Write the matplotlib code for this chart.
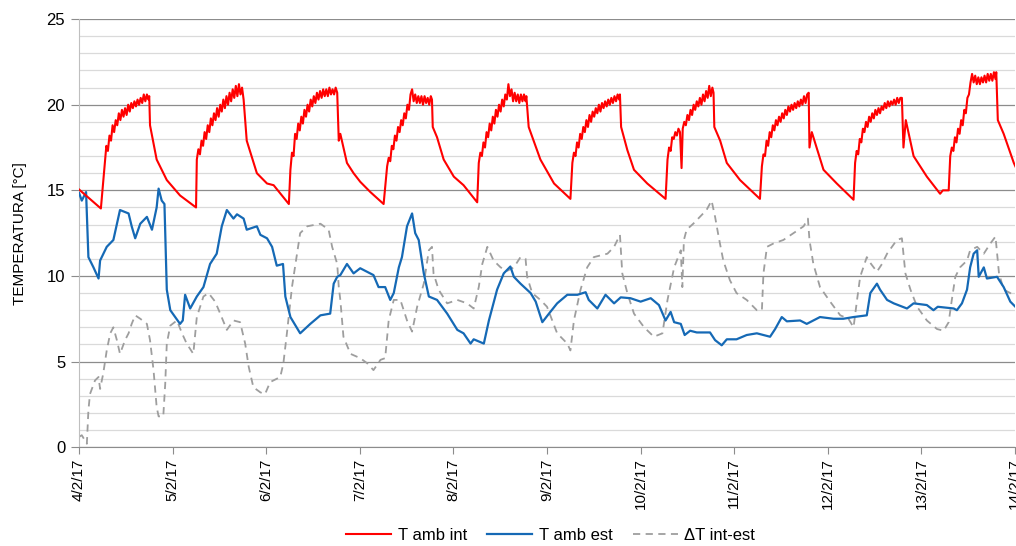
import numpy as np
import pandas as pd
import matplotlib
matplotlib.use("Agg")
import matplotlib.pyplot as plt
from matplotlib.ticker import MultipleLocator

plt.rcParams['font.family'] = ['Liberation Sans', 'DejaVu Sans']

# ---- data: hours after 4/2/17 00:00 and temperatures [°C] ----
t_int_h = [0, 5.6,
           6.2, 6.6, 7.0, 7.4, 7.8, 8.2, 8.6, 9.0, 9.4, 9.8, 10.2, 10.6, 11.0, 11.4, 11.8, 12.2,
           12.6, 13.0, 13.4, 13.8, 14.2, 14.6, 15.0, 15.4, 15.8, 16.2, 16.6, 17.0, 17.4, 17.8, 18.0,
           18.2, 19.9, 22.5, 25.9, 30.0,
           30.2, 30.6, 31.0, 31.4, 31.8, 32.2, 32.6, 33.0, 33.4, 33.8, 34.2, 34.6, 35.0, 35.4,
           35.8, 36.2, 36.6, 37.0, 37.4, 37.8, 38.2, 38.6, 39.0, 39.4, 39.8, 40.2, 40.6, 41.0,
           41.4, 41.8, 42.2,
           43.0, 45.6, 48.2, 49.9, 53.8,
           54.2, 54.6, 55.0, 55.4, 55.8, 56.2, 56.6, 57.0, 57.4, 57.8, 58.2, 58.6, 59.0, 59.4,
           59.8, 60.2, 60.6, 61.0, 61.4, 61.8, 62.2, 62.6, 63.0, 63.4, 63.8, 64.2, 64.6, 65.0,
           65.4, 65.8, 66.2,
           66.6, 67.0, 68.7, 70.4, 72.1, 74.7, 78.1,
           79.0, 79.4, 79.8, 80.2, 80.6, 81.0, 81.4, 81.8, 82.2, 82.6, 83.0, 83.4, 83.8, 84.2,
           84.6, 85.0, 85.4, 85.8, 86.2, 86.6, 87.0, 87.4, 87.8, 88.2, 88.6, 89.0, 89.4, 89.8,
           90.2, 90.5,
           90.7, 91.8, 93.5, 96.1, 98.6, 102.1,
           102.5, 102.9, 103.3, 103.7, 104.1, 104.5, 104.9, 105.3, 105.7, 106.1, 106.5, 106.9,
           107.3, 107.7, 108.1, 108.5, 108.9, 109.3, 109.7, 110.1, 110.5, 110.9, 111.3, 111.7,
           112.1, 112.5, 112.9, 113.3, 113.7, 114.1, 114.5, 114.7,
           115.3, 118.3, 121.8, 126.0,
           126.5, 126.9, 127.3, 127.7, 128.1, 128.5, 128.9, 129.3, 129.7, 130.1, 130.5, 130.9,
           131.3, 131.7, 132.1, 132.5, 132.9, 133.3, 133.7, 134.1, 134.5, 134.9, 135.3, 135.7,
           136.1, 136.5, 136.9, 137.3, 137.7, 138.1, 138.5, 138.7,
           139.0, 140.6, 142.3, 145.7, 150.4,
           150.9, 151.3, 151.7, 152.1, 152.5, 152.9, 153.3, 153.7, 154.1, 154.5, 154.8, 155.2,
           155.6, 156.0, 156.4, 156.8, 157.2, 157.6, 158.0, 158.4, 158.8, 159.2, 159.6, 160.0,
           160.4, 160.8, 161.2, 161.6, 162.0, 162.4, 162.7,
           162.9, 164.4, 166.1, 169.5, 174.6,
           175.1, 175.5, 175.9, 176.3, 176.7, 177.1, 177.5, 177.9, 178.3, 178.7, 179.1, 179.5,
           179.9, 180.3, 180.7, 181.1, 181.5, 181.9, 182.3, 182.7, 183.1, 183.5, 183.9, 184.3,
           184.7, 185.1, 185.5, 185.9, 186.3, 186.7, 187.1,
           187.3, 187.9, 190.9, 194.3, 198.6,
           199.0, 199.4, 199.8, 200.2, 200.6, 201.0, 201.4, 201.8, 202.2, 202.6, 203.0, 203.4,
           203.8, 204.2, 204.6, 205.0, 205.4, 205.8, 206.2, 206.6, 207.0, 207.4, 207.8, 208.2,
           208.6, 209.0, 209.4, 209.8, 210.2, 210.6, 211.0,
           211.4, 212.0, 214.0, 217.4, 219.1, 220.8, 221.5, 223.0,
           223.4, 223.8, 224.2, 224.6, 225.0, 225.4, 225.8, 226.2, 226.6, 227.0, 227.4, 227.8,
           228.2, 228.6, 229.0, 229.4, 229.8, 230.2, 230.6, 231.0, 231.4, 231.8, 232.2, 232.6,
           233.0, 233.4, 233.8, 234.2, 234.6, 235.0, 235.2,
           235.6, 237.1, 239.7, 240.5]
t_int = [15.05, 13.94,
         15.5, 16.6, 17.6, 17.3, 18.2, 17.9, 18.8, 18.4, 19.1, 18.8, 19.5, 19.1, 19.7, 19.3, 19.8, 19.4,
         20.0, 19.6, 20.1, 19.8, 20.2, 19.9, 20.3, 20.0, 20.4, 20.1, 20.6, 20.2, 20.6, 20.3, 20.5,
         18.8, 16.8, 15.6, 14.7, 14.0,
         16.8, 17.4, 17.1, 17.9, 17.6, 18.4, 18.0, 18.8, 18.4, 19.2, 18.8, 19.5, 19.1, 19.8,
         19.3, 20.0, 19.6, 20.3, 19.8, 20.5, 20.0, 20.7, 20.2, 20.9, 20.4, 21.1, 20.5, 21.2,
         20.6, 21.0, 20.3,
         17.9, 16.0, 15.4, 15.3, 14.2,
         16.2, 17.2, 17.0, 18.3, 18.0, 18.9, 18.5, 19.3, 18.9, 19.7, 19.3, 20.0, 19.6, 20.3,
         19.9, 20.5, 20.1, 20.7, 20.3, 20.8, 20.4, 20.9, 20.5, 20.9, 20.5, 21.0, 20.6, 20.9,
         20.6, 21.0, 20.7,
         17.9, 18.3, 16.6, 16.0, 15.5, 14.9, 14.2,
         16.4, 16.9, 16.7, 17.6, 17.4, 18.2, 17.9, 18.7, 18.4, 19.1, 18.8, 19.5, 19.2, 20.0,
         19.7, 20.6, 20.9, 20.2, 20.6, 20.1, 20.5, 20.1, 20.5, 20.0, 20.5, 20.1, 20.4, 20.0,
         20.5, 20.3,
         18.7, 18.1, 16.8, 15.8, 15.3, 14.3,
         16.6, 17.2, 17.0, 17.8, 17.5, 18.4, 18.1, 18.9, 18.5, 19.3, 18.9, 19.7,
         19.3, 20.0, 19.6, 20.3, 19.9, 20.6, 20.3, 21.2, 20.5, 20.9, 20.2, 20.7,
         20.2, 20.6, 20.1, 20.6, 20.2, 20.6, 20.2, 20.5,
         18.7, 16.8, 15.4, 14.5,
         16.6, 17.2, 17.0, 17.8, 17.5, 18.3, 18.0, 18.7, 18.4, 19.1, 18.7, 19.4,
         19.0, 19.6, 19.3, 19.8, 19.5, 20.0, 19.6, 20.1, 19.8, 20.2, 19.9, 20.3,
         20.0, 20.4, 20.1, 20.5, 20.2, 20.6, 20.3, 20.6,
         18.7, 17.35, 16.2, 15.4, 14.5,
         16.8, 17.5, 17.3, 18.1, 18.0, 18.4, 18.2, 18.6, 18.4, 16.3, 18.6, 19.0,
         18.8, 19.4, 19.1, 19.7, 19.4, 20.0, 19.7, 20.2, 19.9, 20.4, 20.0, 20.6,
         20.2, 20.8, 20.4, 21.1, 20.5, 21.0, 20.7,
         18.7, 17.9, 16.6, 15.6, 14.5,
         16.4, 17.1, 17.0, 17.9, 17.6, 18.4, 18.1, 18.8, 18.5, 19.1, 18.8, 19.3,
         19.0, 19.5, 19.2, 19.7, 19.4, 19.9, 19.6, 20.0, 19.7, 20.1, 19.8, 20.2,
         19.9, 20.3, 20.0, 20.5, 20.1, 20.6, 20.7,
         17.5, 18.4, 16.2, 15.4, 14.45,
         16.6, 17.3, 17.1, 18.0, 17.8, 18.6, 18.4, 19.0, 18.7, 19.3, 19.0, 19.5,
         19.2, 19.7, 19.4, 19.8, 19.5, 19.9, 19.7, 20.1, 19.8, 20.2, 19.9, 20.2,
         20.0, 20.3, 20.0, 20.4, 20.1, 20.4, 20.4,
         17.5, 19.1, 17.0, 15.8, 15.3, 14.8, 15.0, 15.0,
         17.0, 17.5, 17.3, 18.1, 17.8, 18.6, 18.3, 19.1, 18.8, 19.7, 19.5, 20.4,
         20.6, 21.3, 21.8, 21.3, 21.7, 21.2, 21.6, 21.2, 21.6, 21.3, 21.7, 21.3,
         21.8, 21.4, 21.8, 21.4, 21.9, 21.5, 21.9,
         19.1, 18.3, 16.6, 16.2]

t_est_h = [0, 0.7, 1.8, 2.4, 3.7, 5.0, 5.4, 7.1, 8.8, 10.5, 12.7, 13.5, 14.4, 15.7, 17.4,
           18.7, 19.9, 20.4, 21.2, 21.9, 22.5, 23.4, 25.9, 26.6, 27.2, 28.5, 30.2, 31.9,
           33.6, 35.3, 36.6, 37.9, 39.6, 40.5, 42.2, 43.0, 45.6, 46.5, 48.2, 49.5, 50.7,
           52.3, 52.9, 54.2, 56.7, 59.3, 61.9, 64.4, 65.3, 66.2, 67.0, 68.7, 70.4, 72.1,
           75.5, 76.8, 78.5, 79.8, 80.7, 82.0, 82.8, 84.1, 85.4, 86.2, 87.1, 88.4, 89.7,
           91.8, 94.4, 97.0, 98.6, 100.4, 101.2, 103.8, 105.1, 107.2, 108.9, 110.6, 111.5,
           113.2, 115.8, 117.1, 118.8, 120.5, 122.6, 125.2, 127.8, 129.9, 130.7, 132.9,
           135.0, 137.2, 138.9, 141.4, 144.0, 146.6, 148.7, 150.4, 151.7, 152.6, 154.3,
           155.3, 156.7, 158.4, 161.8, 163.1, 164.8, 166.1, 168.6, 171.2, 173.8, 177.2,
           178.5, 180.2, 181.5, 184.9, 186.6, 190.0, 193.5, 196.0, 198.6, 202.0, 202.9,
           204.6, 205.4, 207.2, 208.9, 212.3, 214.0, 217.4, 219.1, 220.2, 224.3, 225.1,
           226.4, 227.7, 228.5, 229.4, 230.3, 230.7, 232.0, 232.8, 235.4, 237.1, 238.8, 240.1]
t_est = [14.85, 14.4, 14.9, 11.1, 10.5, 9.85, 10.9, 11.7, 12.1, 13.85, 13.65, 12.9, 12.2, 13.05, 13.45,
         12.7, 14.0, 15.1, 14.4, 14.2, 9.2, 8.0, 7.2, 7.4, 8.9, 8.1, 8.8, 9.35,
         10.7, 11.3, 12.9, 13.85, 13.35, 13.6, 13.35, 12.7, 12.9, 12.4, 12.2, 11.7, 10.6,
         10.7, 8.8, 7.6, 6.65, 7.2, 7.7, 7.8, 9.55, 9.95, 10.05, 10.7, 10.15, 10.45,
         10.05, 9.35, 9.35, 8.6, 9.0, 10.5, 11.1, 12.9, 13.65, 12.5, 12.1, 10.15, 8.8,
         8.6, 7.8, 6.85, 6.65, 6.05, 6.3, 6.05, 7.4, 9.2, 10.15, 10.55, 9.95,
         9.55, 9.0, 8.5, 7.3, 7.8, 8.4, 8.9, 8.9, 9.05, 8.6, 8.1,
         8.9, 8.4, 8.75, 8.7, 8.5, 8.7, 8.3, 7.4, 7.9, 7.3, 7.2,
         6.55, 6.8, 6.7, 6.7, 6.25, 5.95, 6.3, 6.3, 6.55, 6.65, 6.45,
         6.9, 7.6, 7.35, 7.4, 7.2, 7.6, 7.5, 7.5, 7.6, 7.7, 9.0,
         9.55, 9.2, 8.6, 8.4, 8.1, 8.4, 8.3, 8.0, 8.2, 8.1, 8.0,
         8.4, 9.2, 10.5, 11.3, 11.5, 9.95, 10.5, 9.85, 9.95, 9.35, 8.5, 8.2]

dt_h = [0, 0.7, 2.0, 2.4, 2.8, 4.1, 5.0, 5.4, 6.2, 7.1, 8.0, 8.8, 9.7, 10.5, 11.8, 12.7,
        13.5, 14.4, 15.7, 17.4, 18.2, 19.1, 19.9, 20.4, 21.6, 22.1, 22.5, 23.4, 25.1,
        26.4, 27.6, 29.3, 30.2, 31.9, 33.2, 34.9, 36.2, 37.9, 39.6, 41.3, 42.6, 43.5,
        44.7, 46.5, 47.7, 49.0, 51.6, 52.4, 53.3, 54.6, 55.9, 56.7, 58.5, 61.9, 64.0,
        64.9, 66.2, 66.6, 67.0, 67.8, 69.6, 72.1, 73.9, 75.5, 77.3, 78.5, 79.4, 80.7,
        82.4, 84.1, 85.4, 86.7, 88.4, 89.7, 90.5, 90.9, 92.2, 94.4, 97.0, 99.5, 101.2,
        102.5, 103.4, 104.7, 106.3, 108.1, 109.8, 111.5, 113.2, 114.5, 114.9, 116.2,
        118.3, 120.0, 122.6, 125.2, 126.0, 126.9, 128.6, 130.3, 132.0, 133.7, 135.5,
        137.2, 138.7, 139.3, 140.6, 142.3, 144.9, 147.4, 149.6, 150.9, 152.6, 154.3,
        154.7, 155.1, 155.8, 157.5, 159.2, 160.9, 162.2, 163.1, 164.0, 165.2, 166.9,
        168.6, 171.2, 173.8, 175.1, 175.5, 176.4, 178.1, 180.6, 183.2, 185.8, 186.9,
        187.3, 188.3, 190.0, 192.6, 195.2, 197.3, 198.6, 199.5, 200.3, 202.0, 203.1,
        204.6, 205.9, 207.2, 209.7, 211.0, 211.9, 213.2, 214.9, 217.4, 220.0, 221.7,
        223.0, 223.8, 224.7, 225.9, 227.7, 228.5, 230.3, 232.0, 233.7, 235.0, 235.9,
        237.1, 238.8, 240.1]
dt = [0.6, 0.7, 0.2, 2.15, 3.1, 3.9, 4.1, 3.4, 4.3, 5.65, 6.65, 7.0, 6.25, 5.45, 6.25, 6.65,
      7.2, 7.7, 7.5, 7.2, 6.25, 4.5, 2.35, 1.8, 1.8, 3.7, 6.05, 7.1, 7.4,
      6.65, 6.05, 5.45, 7.6, 8.8, 9.0, 8.5, 7.8, 6.85, 7.4, 7.3, 6.05, 4.7,
      3.5, 3.2, 3.1, 3.8, 4.1, 4.9, 6.65, 9.35, 11.3, 12.5, 12.9, 13.05, 12.7,
      11.7, 10.7, 9.35, 8.6, 6.45, 5.45, 5.2, 4.9, 4.5, 5.1, 5.2, 7.4, 8.6,
      8.6, 7.4, 6.75, 8.2, 9.55, 11.5, 11.7, 10.15, 9.2, 8.4, 8.6, 8.4, 8.1,
      9.35, 10.7, 11.7, 10.9, 10.5, 10.3, 10.5, 11.1, 11.0, 9.95, 9.0,
      8.6, 8.2, 6.65, 6.05, 5.65, 7.4, 9.2, 10.5, 11.1, 11.2, 11.3,
      11.7, 12.4, 10.15, 9.0, 7.8, 7.0, 6.45, 6.65, 8.6, 10.5, 11.5,
      9.35, 12.1, 12.7, 13.05, 13.45, 13.85, 14.4, 13.45, 12.3, 10.9, 9.75,
      9.0, 8.6, 8.0, 8.0, 10.15, 11.7, 11.9, 12.1, 12.5, 12.9, 13.35,
      12.1, 10.7, 9.35, 8.5, 7.7, 7.5, 7.0, 8.6, 9.95, 11.1, 10.7,
      10.25, 10.7, 11.3, 12.1, 12.2, 10.15, 9.2, 8.2, 7.4, 6.9, 6.8,
      7.3, 8.6, 9.95, 10.5, 10.9, 11.5, 11.7, 11.3, 11.9, 12.3, 10.15,
      9.2, 9.0, 8.8]

start_date = "2017-02-04"
end_date = "2017-02-14"
tick_labels = ['4/2/17', '5/2/17', '6/2/17', '7/2/17', '8/2/17', '9/2/17', '10/2/17',
               '11/2/17', '12/2/17', '13/2/17', '14/2/17']
series_names = ['T amb int', 'T amb est', 'ΔT int-est']
y_label = 'TEMPERATURA [°C]'

# ---- build ----
base = pd.Timestamp(start_date)
def to_dt(h):
    return base + pd.to_timedelta(np.asarray(h, dtype=float), unit='h')

fig = plt.figure(figsize=(10.16, 5.46), dpi=100)
ax = fig.add_axes([0.0778, 0.181, 0.9212, 0.784])

ax.plot(to_dt(t_int_h), t_int, color='#FF0000', lw=1.5, label=series_names[0], zorder=4)
ax.plot(to_dt(t_est_h), t_est, color='#1569B5', lw=1.6, label=series_names[1], zorder=3)
ax.plot(to_dt(dt_h), dt, color='#9E9E9E', lw=1.3, ls=(0, (4, 3)), label=series_names[2], zorder=2)

ax.set_xlim(pd.Timestamp(start_date), pd.Timestamp(end_date))
ax.set_ylim(0, 25)
ax.yaxis.set_major_locator(MultipleLocator(5))
ax.yaxis.set_minor_locator(MultipleLocator(1))
ax.grid(which='major', axis='y', color='#8C8C8C', lw=0.9)
ax.grid(which='minor', axis='y', color='#DADADA', lw=0.9)
ax.set_axisbelow(True)

ticks = pd.date_range(start_date, end_date, freq='D')
ax.set_xticks(ticks)
ax.set_xticklabels(tick_labels, rotation=90, fontsize=11)
ax.tick_params(axis='x', length=5, color='#8C8C8C', pad=3)
ax.tick_params(axis='y', which='major', length=6, color='#8C8C8C', labelsize=12, pad=4)
ax.tick_params(axis='y', which='minor', length=0)

for s in ['top', 'right']:
    ax.spines[s].set_visible(False)
ax.spines['left'].set_color('#BFBFBF')
ax.spines['bottom'].set_color('#8C8C8C')

ax.set_ylabel(y_label, fontsize=11, labelpad=14)

fig.legend(loc='lower center', bbox_to_anchor=(0.542, -0.022), ncol=3, frameon=False,
           fontsize=12, handlelength=2.7, columnspacing=1.2, handletextpad=0.4)

fig.savefig('out.png', dpi=100)
